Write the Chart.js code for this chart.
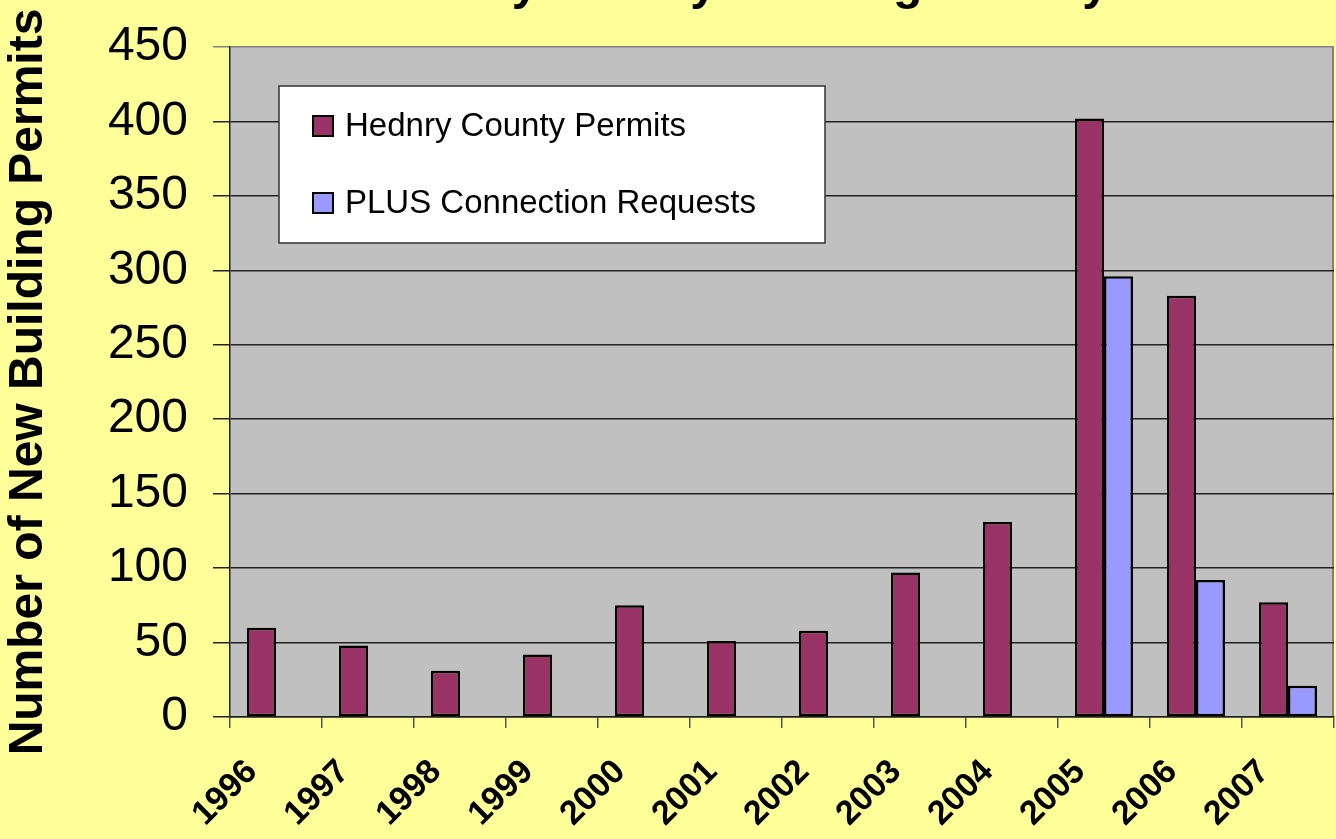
<!DOCTYPE html>
<html>
<head>
<meta charset="utf-8">
<script src="https://cdn.jsdelivr.net/npm/chart.js@4/dist/chart.umd.min.js"></script>
<style>
  html, body { margin: 0; padding: 0; background: #FFFF99; overflow: hidden; }
  #wrap { width: 1336px; height: 839px; position: relative; }
</style>
</head>
<body>
<div id="wrap"><canvas id="chart"></canvas></div>
<script>
const chartTitle = "Hendry County Building Activity";
const yAxisTitle = "Number of New Building Permits";
const years = ["1996", "1997", "1998", "1999", "2000", "2001", "2002", "2003", "2004", "2005", "2006", "2007"];
const hendryPermits = [60, 48, 31, 42, 75, 51, 58, 97, 131, 402, 283, 77];
const plusRequests = [null, null, null, null, null, null, null, null, null, 296, 92, 21];
const yMax = 450;
const yStep = 50;

const FONT = "'Liberation Sans', Arial, sans-serif";

// yellow page, grey plot area, right border of the plot
const backdrop = {
  id: "backdrop",
  beforeDraw(chart) {
    const { ctx, chartArea: a } = chart;
    ctx.save();
    ctx.fillStyle = "#FFFF99";
    ctx.fillRect(0, 0, chart.width, chart.height);
    ctx.fillStyle = "#C0C0C0";
    ctx.fillRect(a.left, a.top, a.right - a.left, a.bottom - a.top);
    ctx.strokeStyle = "#808080";
    ctx.lineWidth = 2;
    ctx.beginPath();
    ctx.moveTo(a.right - 1, a.top);
    ctx.lineTo(a.right - 1, a.bottom);
    ctx.stroke();
    ctx.restore();
  }
};

// title sits mostly above the top edge, only descenders show
const clippedTitle = {
  id: "clippedTitle",
  afterDraw(chart) {
    const ctx = chart.ctx;
    ctx.save();
    ctx.font = "bold 48px " + FONT;
    ctx.fillStyle = "#000";
    ctx.textAlign = "center";
    ctx.textBaseline = "alphabetic";
    ctx.fillText(chartTitle, 741, -1);
    ctx.restore();
  }
};

// boxed legend inside the plot area
const boxLegend = {
  id: "boxLegend",
  afterDraw(chart) {
    const { ctx, chartArea: a } = chart;
    const x = a.left + 49, y = a.top + 39, w = 546, h = 157;
    ctx.save();
    ctx.fillStyle = "#FFFFFF";
    ctx.fillRect(x, y, w, h);
    ctx.strokeStyle = "#333";
    ctx.lineWidth = 1.5;
    ctx.strokeRect(x, y, w, h);
    ctx.font = "33px " + FONT;
    ctx.textBaseline = "middle";
    chart.data.datasets.forEach((ds, i) => {
      const cy = y + 40 + i * 77;
      ctx.fillStyle = ds.backgroundColor;
      ctx.fillRect(x + 34, cy - 10, 20, 20);
      ctx.strokeStyle = "#000";
      ctx.lineWidth = 2;
      ctx.strokeRect(x + 34, cy - 10, 20, 20);
      ctx.fillStyle = "#000";
      ctx.fillText(ds.label, x + 66, cy + 1);
    });
    ctx.restore();
  }
};

new Chart(document.getElementById("chart"), {
  type: "bar",
  data: {
    labels: years,
    datasets: [
      {
        label: "Hednry County Permits",
        data: hendryPermits,
        backgroundColor: "#993366",
        borderColor: "#000",
        borderWidth: 2.5,
        borderSkipped: false,
        categoryPercentage: 0.63,
        barPercentage: 1.0
      },
      {
        label: "PLUS Connection Requests",
        data: plusRequests,
        backgroundColor: "#9999FF",
        borderColor: "#000",
        borderWidth: 2.5,
        borderSkipped: false,
        categoryPercentage: 0.63,
        barPercentage: 1.0
      }
    ]
  },
  options: {
    responsive: true,
    maintainAspectRatio: false,
    animation: false,
    layout: { padding: { top: 47, right: 2, left: 0, bottom: 0 } },
    plugins: {
      legend: { display: false },
      title: { display: false },
      tooltip: { enabled: false }
    },
    scales: {
      x: {
        afterFit(scale) {
          scale.height = 122;
          scale.paddingLeft = 0;
          scale.paddingRight = 0;
        },
        grid: {
          display: true,
          offset: true,
          drawOnChartArea: false,
          tickLength: 11,
          color: "#555",
          lineWidth: 1.5
        },
        border: { color: "#222", width: 1.5 },
        ticks: {
          autoSkip: false,
          maxRotation: 45,
          minRotation: 45,
          labelOffset: -24,
          padding: 24,
          color: "#000",
          font: { family: FONT, size: 34, weight: "bold" }
        }
      },
      y: {
        min: 0,
        max: yMax,
        afterFit(scale) {
          scale.width = 230;
          scale.paddingTop = 0;
          scale.paddingBottom = 0;
        },
        ticks: {
          stepSize: yStep,
          padding: 25,
          color: "#000",
          font: { family: FONT, size: 48 }
        },
        grid: {
          tickLength: 17,
          lineWidth: 1.5,
          color: (c) => (c.tick && c.tick.value === yMax ? "#808080" : "#222")
        },
        border: { color: "#222", width: 1.5 },
        title: {
          display: true,
          text: yAxisTitle,
          color: "#000",
          padding: { top: 0, bottom: 57 },
          font: { family: FONT, size: 48, weight: "bold" }
        }
      }
    }
  },
  plugins: [backdrop, clippedTitle, boxLegend]
});
</script>
</body>
</html>
